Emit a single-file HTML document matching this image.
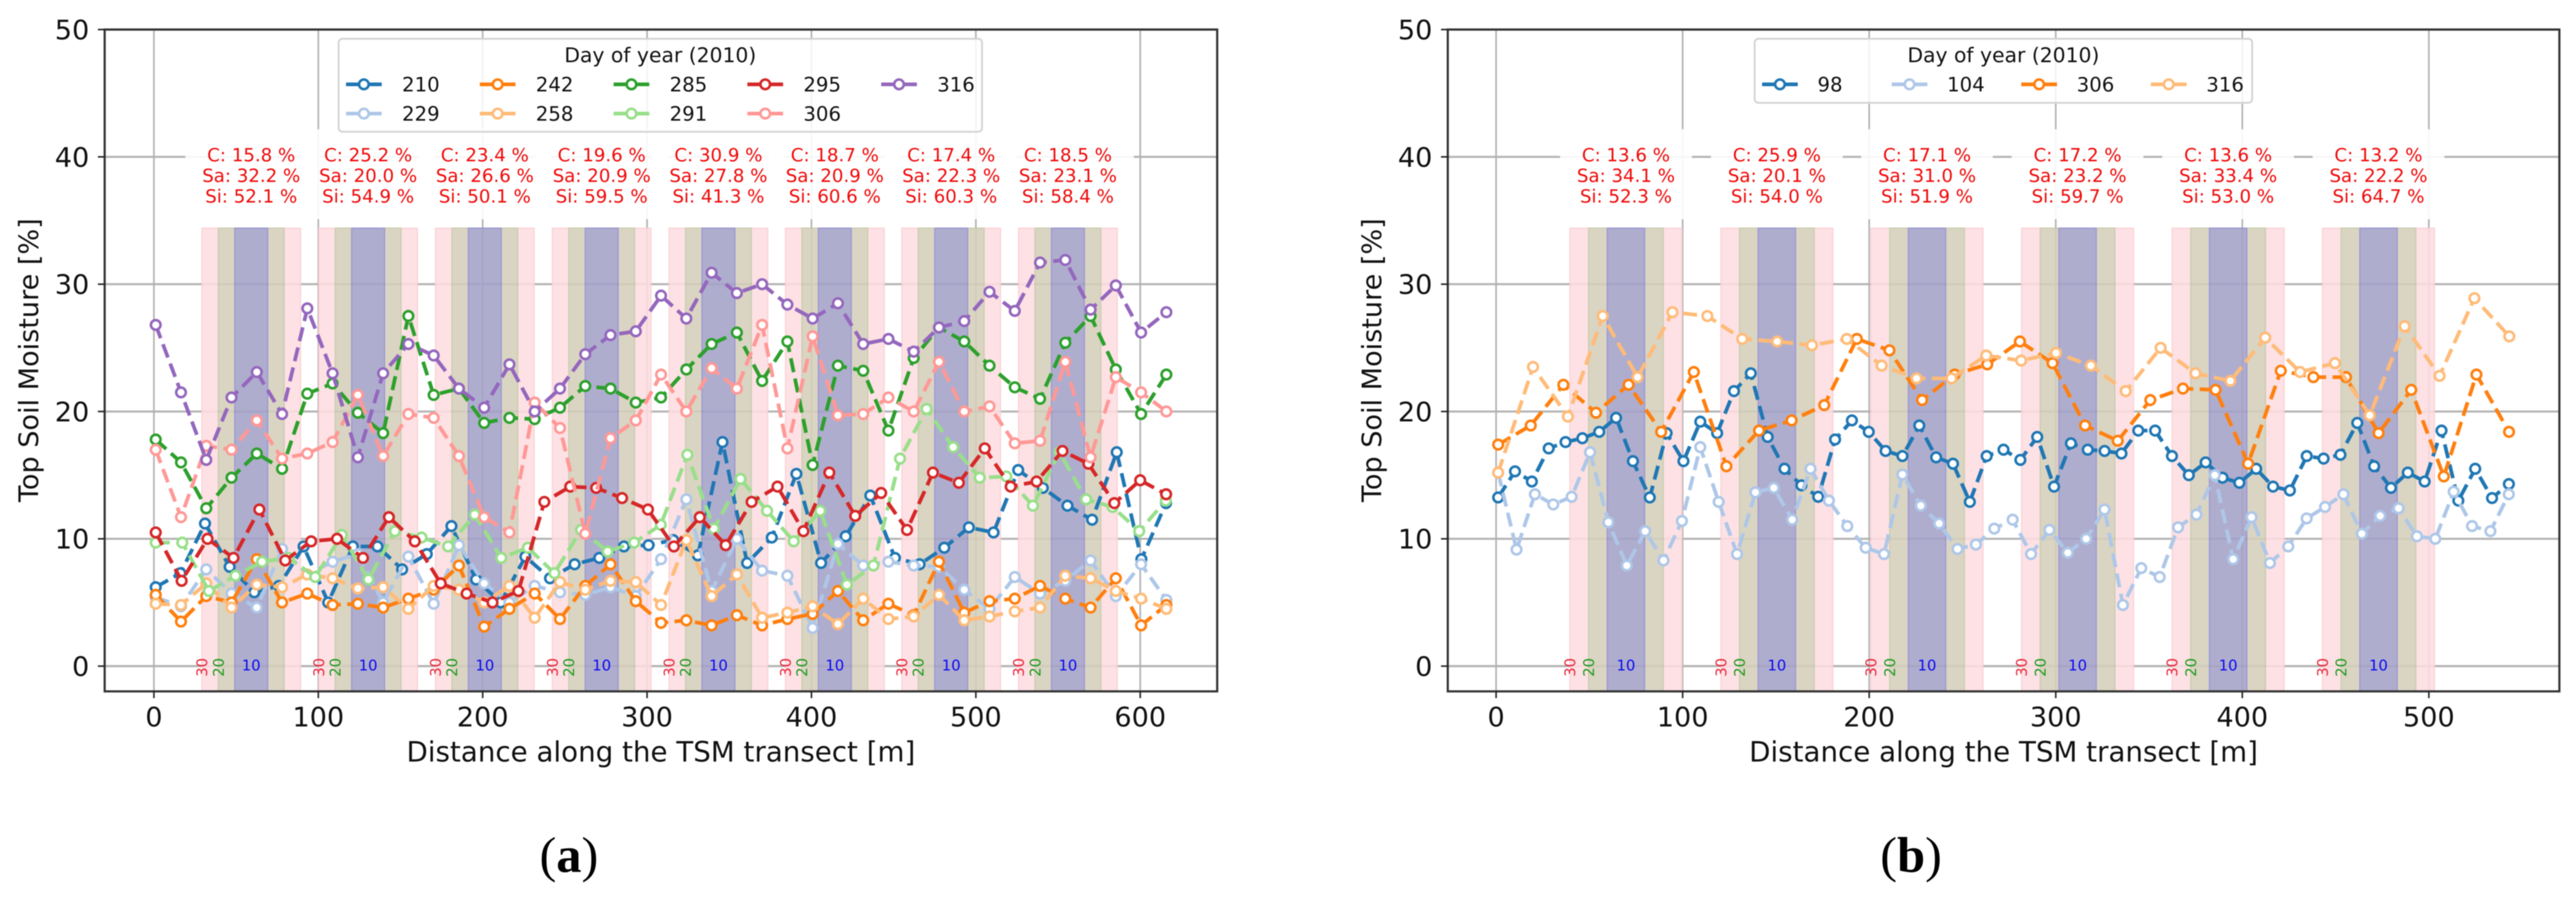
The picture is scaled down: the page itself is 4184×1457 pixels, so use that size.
<!DOCTYPE html>
<html lang="en">
<head>
<meta charset="utf-8">
<title>Top Soil Moisture along the TSM transect</title>
<style>
html,body{margin:0;padding:0;background:#fff;}
svg{display:block;filter:blur(0.9px);}
text{font-family:"DejaVu Sans","Liberation Sans",sans-serif;}
.cap{font-family:"Liberation Serif",serif;font-size:82px;fill:#000;}
</style>
</head>
<body>
<svg id="figure" xmlns="http://www.w3.org/2000/svg" width="4184" height="1457" viewBox="0 0 4184 1457">
<rect width="4184" height="1457" fill="#fff"/>
<text class="cap" x="924" y="1416" text-anchor="middle">(<tspan font-weight="bold">a</tspan>)</text>
<text class="cap" x="3104" y="1416" text-anchor="middle">(<tspan font-weight="bold">b</tspan>)</text>
</svg>
<script>
// ---------- shared axis tick labels ----------
const yTicks = [0, 10, 20, 30, 40, 50];
const xTicksA = [0, 100, 200, 300, 400, 500, 600];
const xTicksB = [0, 100, 200, 300, 400, 500];
const xAxisTitle = "Distance along the TSM transect [m]";
const yAxisTitle = "Top Soil Moisture [%]";
const legendTitle = "Day of year (2010)";
const bandWidths = [30, 20, 10];

// ---------- panel (a) data ----------
const daysA = [210, 229, 242, 258, 285, 291, 295, 306, 316];
const stepsA = [14.99, 15.37, 15.37, 15.37, 15.37, 16.17, 15.76, 15.37, 15.37];
const a210 = [6.2,7.3,11.2,7.8,5.8,6.3,9.4,5.0,9.4,9.4,7.6,8.8,11.0,6.8,5.0,8.6,6.9,8.0,8.5,9.4,9.5,9.9,8.7,17.6,8.1,10.1,15.1,8.1,10.2,13.4,8.5,8.0,9.3,10.9,10.5,15.4,14.0,12.6,11.5,16.8,8.4,12.8];
const a229 = [5.4,4.7,7.6,5.7,4.6,9.2,7.2,8.2,8.8,5.0,8.6,4.9,9.5,6.5,5.0,6.3,5.8,5.6,6.2,5.5,8.4,13.1,5.9,10.0,7.5,7.1,3.0,9.6,7.9,8.2,7.9,7.8,6.0,4.5,7.0,5.7,6.7,8.3,5.5,8.0,5.2];
const a242 = [5.6,3.5,5.5,5.0,8.4,5.0,5.7,4.8,4.9,4.6,5.3,6.0,7.9,3.1,4.5,5.7,3.7,6.3,8.0,5.1,3.4,3.6,3.2,4.0,3.2,3.7,4.1,5.9,3.6,4.9,4.0,8.2,4.2,5.1,5.3,6.3,5.3,4.6,6.9,3.2,4.8];
const a258 = [4.9,4.8,6.5,4.6,6.4,6.2,7.2,6.9,6.1,6.2,4.5,6.3,6.0,5.0,6.3,3.8,6.6,6.0,6.7,6.6,4.8,9.9,5.5,7.2,3.8,4.2,4.7,3.3,5.3,3.7,3.9,5.6,3.6,3.9,4.3,4.6,7.1,6.9,5.9,5.3,4.5];
const a285 = [17.8,16.0,12.4,14.8,16.7,15.5,21.4,22.2,19.9,18.3,27.5,21.3,21.8,19.1,19.5,19.4,20.3,22.0,21.8,20.7,21.1,23.3,25.3,26.2,22.4,25.5,15.8,23.6,23.2,18.5,24.2,26.6,25.5,23.6,21.9,21.0,25.4,27.5,23.3,19.8,22.9];
const a291 = [9.7,9.7,5.9,7.1,8.2,8.5,7.0,10.3,6.8,10.6,10.1,9.4,11.9,8.5,9.3,7.3,10.7,9.0,9.7,11.1,16.6,10.8,14.7,12.2,9.8,12.2,6.4,7.9,16.3,20.2,17.2,14.8,14.9,12.6,16.8,13.1,12.5,10.6,13.0];
const a295 = [10.5,6.7,10.0,8.5,12.3,8.3,9.8,10.0,8.5,11.7,9.8,6.5,5.7,5.0,5.9,12.9,14.1,14.0,13.2,12.3,9.4,11.7,9.5,12.9,14.1,10.6,15.2,11.8,13.6,10.7,15.2,14.4,17.1,14.1,14.5,16.9,15.9,12.8,14.6,13.5];
const a306 = [17.0,11.7,17.3,17.0,19.3,16.3,16.7,17.6,21.3,16.5,19.8,19.5,16.5,11.7,10.5,20.7,18.7,10.4,17.9,19.3,22.9,20.0,23.4,21.8,26.8,17.1,25.9,19.7,19.8,21.1,20.0,23.9,20.0,20.4,17.5,17.7,23.9,16.4,22.7,21.5,20.0];
const a316 = [26.8,21.5,16.2,21.1,23.1,19.8,28.1,23.0,16.4,23.0,25.3,24.4,21.8,20.3,23.7,20.0,21.8,24.5,26.0,26.3,29.1,27.3,30.9,29.3,30.0,28.4,27.3,28.5,25.3,25.7,24.7,26.6,27.1,29.4,27.9,31.7,31.9,28.0,29.9,26.2,27.8];
const seriesA = [a210, a229, a242, a258, a285, a291, a295, a306, a316];
const centersA = [59.2, 130.3, 201.3, 272.4, 343.4, 414.2, 485, 556];
const clayA = ["15.8","25.2","23.4","19.6","30.9","18.7","17.4","18.5"];
const sandA = ["32.2","20.0","26.6","20.9","27.8","20.9","22.3","23.1"];
const siltA = ["52.1","54.9","50.1","59.5","41.3","60.6","60.3","58.4"];

// ---------- panel (b) data ----------
const daysB = [98, 104, 306, 316];
const stepsB = [9.03, 9.85, 17.48, 18.69];
const b98 = [13.25,15.3,14.5,17.1,17.6,17.9,18.4,19.5,16.1,13.25,18.3,16.1,19.2,18.3,21.6,23.0,18.0,15.5,14.2,13.3,17.8,19.3,18.4,16.9,16.5,18.9,16.4,15.9,12.9,16.5,17.0,16.2,18.0,14.1,17.5,17.0,16.9,16.7,18.5,18.5,16.5,15.0,16.0,14.8,14.4,15.5,14.1,13.8,16.5,16.3,16.6,19.1,15.7,14.0,15.2,14.5,18.5,13.0,15.5,13.2,14.3];
const b104 = [15.2,9.15,13.5,12.7,13.3,16.8,11.3,7.9,10.6,8.3,11.4,17.2,12.9,8.8,13.65,14.0,11.5,15.5,13.0,11.0,9.3,8.8,15.05,12.6,11.2,9.2,9.55,10.8,11.5,8.8,10.7,8.9,10.0,12.3,4.8,7.7,7.0,10.9,11.9,15.0,8.4,11.7,8.1,9.4,11.6,12.5,13.5,10.4,11.8,12.4,10.2,10.0,13.7,11.0,10.6,13.5];
const b306 = [17.4,18.9,22.1,19.9,22.1,18.4,23.1,15.7,18.5,19.3,20.5,25.7,24.8,20.9,22.9,23.7,25.5,23.8,18.9,17.7,20.9,21.8,21.7,15.9,23.2,22.7,22.7,18.3,21.7,14.9,22.9,18.4];
const b316 = [15.2,23.5,19.6,27.5,22.7,27.8,27.5,25.7,25.5,25.2,25.7,23.6,22.6,22.6,24.4,24.0,24.6,23.6,21.6,25.0,23.0,22.4,25.8,23.1,23.8,19.7,26.7,22.8,28.9,25.9];
const seriesB = [b98, b104, b306, b316];
const centersB = [69.6, 150.5, 231, 311.7, 392.4, 473];
const clayB = ["13.6","25.9","17.1","17.2","13.6","13.2"];
const sandB = ["34.1","20.1","31.0","23.2","33.4","22.2"];
const siltB = ["52.3","54.0","51.9","59.7","53.0","64.7"];

// ---------- colour tables ----------
const colorsA = ["#1f77b4","#aec7e8","#ff7f0e","#ffbb78","#2ca02c","#98df8a","#d62728","#ff9896","#9467bd"];
const colorsB = ["#1f77b4","#aec7e8","#ff7f0e","#ffbb78"];

const NS = "http://www.w3.org/2000/svg";
const fig = document.getElementById("figure");
function mk(tag, attrs, parent) {
  const e = document.createElementNS(NS, tag);
  for (const k in attrs) e.setAttribute(k, attrs[k]);
  parent.appendChild(e);
  return e;
}

function drawPanel(cfg) {
  const left = cfg.left, right = cfg.right, top = 48, bottom = 1123;
  const sx = v => cfg.x0 + v * cfg.pxPerX;
  const sy = v => 1082 - v * 20.68;
  const root = mk("g", {}, fig);
  
  

  // grid
  const grid = mk("g", {}, root);
  
  
  yTicks.forEach(t => {
    const l = mk("line", {x1:left,x2:right,y1:sy(t),y2:sy(t),stroke:"#b4b4b4","stroke-width":3.4}, grid);
    
    
  });
  cfg.xTicks.forEach(t => {
    const l = mk("line", {x1:sx(t),x2:sx(t),y1:top,y2:bottom,stroke:"#b0b0b0","stroke-width":2.6}, grid);
    
    
  });

  // depth bands
  const bands = mk("g", {opacity:0.88}, root);
  
  
  const bandFill = ["#fddde1","#d5cfba","#a5a2c8"];
  const bandEdge = ["#fbcdd3","#c2c8a6","#8f8cd0"];
  cfg.centers.forEach(c => {
    bandWidths.forEach((w, i) => {
      const r = mk("rect", {x:sx(c-w),y:sy(34.4),width:sx(c+w)-sx(c-w),height:bottom-sy(34.4),fill:bandFill[i],stroke:bandEdge[i],"stroke-width":2}, bands);
      
      
    });
  });

  // soil composition labels
  cfg.centers.forEach((c, i) => {
    const g = mk("g", {}, root);
    
    
    const b = mk("rect", {x:sx(c)-107,y:210,width:214,height:146,fill:"#fff","fill-opacity":0.9}, g);
    
    
    const lines = ["C: "+cfg.clay[i]+" %", "Sa: "+cfg.sand[i]+" %", "Si: "+cfg.silt[i]+" %"];
    lines.forEach((s, j) => {
      const t = mk("text", {x:sx(c),y:262+j*33.5,"text-anchor":"middle","font-size":29.5,fill:"#f00a0a"}, g);
      t.textContent = s;
      
      
    });
  });

  // band width labels
  cfg.centers.forEach(c => {
    const t30 = mk("text", {transform:"translate("+sx(c-30)+",1084) rotate(-90)","text-anchor":"middle",dy:"0.36em","font-size":24,fill:"#e8283c"}, root);
    t30.textContent = "30";
    
    
    const t20 = mk("text", {transform:"translate("+sx(c-20)+",1084) rotate(-90)","text-anchor":"middle",dy:"0.36em","font-size":24,fill:"#1f9a1f"}, root);
    t20.textContent = "20";
    
    
    const t10 = mk("text", {x:sx(c),y:1089,"text-anchor":"middle","font-size":24,fill:"#0a0af0"}, root);
    t10.textContent = "10";
    
    
  });

  // series
  cfg.series.forEach((vals, i) => {
    const g = mk("g", {}, root);
    
    
    const px = vals.map((v, k) => sx(1.1 + k * cfg.steps[i]));
    const py = vals.map(v => sy(v));
    const d = px.map((x, k) => (k ? "L" : "M") + x.toFixed(1) + " " + py[k].toFixed(1)).join("");
    const p = mk("path", {d:d,fill:"none",stroke:cfg.colors[i],"stroke-width":6,"stroke-dasharray":"23 10.5"}, g);
    
    
    px.forEach((x, k) => {
      const m = mk("circle", {cx:x,cy:py[k],r:7.8,fill:"#fff",stroke:cfg.colors[i],"stroke-width":4.2}, g);
      
      
    });
  });

  // spines
  const spine = mk("rect", {x:left,y:top,width:right-left,height:bottom-top,fill:"none",stroke:"#333","stroke-width":3.5}, root);
  
  

  // y ticks
  yTicks.forEach(t => {
    const l = mk("line", {x1:left-11,x2:left,y1:sy(t),y2:sy(t),stroke:"#222","stroke-width":2.5}, root);
    
    
    const s = mk("text", {x:left-25,y:sy(t)+16,"text-anchor":"end","font-size":44,fill:"#111"}, root);
    s.textContent = t;
    
    
  });
  // x ticks
  cfg.xTicks.forEach(t => {
    const l = mk("line", {x1:sx(t),x2:sx(t),y1:bottom,y2:bottom+11,stroke:"#222","stroke-width":2.5}, root);
    
    
    const s = mk("text", {x:sx(t),y:1180,"text-anchor":"middle","font-size":44,fill:"#111"}, root);
    s.textContent = t;
    
    
  });
  const xt = mk("text", {x:(left+right)/2,y:1237,"text-anchor":"middle","font-size":45,fill:"#111"}, root);
  xt.textContent = xAxisTitle;
  
  
  const yt = mk("text", {transform:"translate("+(left-108)+",585) rotate(-90)","text-anchor":"middle","font-size":44,fill:"#111"}, root);
  yt.textContent = yAxisTitle;
  
  

  // legend
  const lg = mk("g", {}, root);
  
  
  const frame = mk("rect", {x:cfg.legend.x,y:63,width:cfg.legend.w,height:cfg.legend.h,rx:6,fill:"#fff","fill-opacity":0.85,stroke:"#d4d4d4","stroke-width":3}, lg);
  
  
  const title = mk("text", {x:cfg.legend.x+cfg.legend.w/2,y:101,"text-anchor":"middle","font-size":33,fill:"#111"}, lg);
  title.textContent = legendTitle;
  
  
  cfg.days.forEach((day, i) => {
    const col = Math.floor(i / cfg.legend.rows), row = i % cfg.legend.rows;
    const hx = cfg.legend.hx + col * cfg.legend.dx, hy = 137 + row * 47.5;
    const e = mk("g", {}, lg);
    
    
    const ln = mk("line", {x1:hx,x2:hx+58,y1:hy,y2:hy,stroke:cfg.colors[i],"stroke-width":6}, e);
    
    
    const c = mk("circle", {cx:hx+29,cy:hy,r:7.8,fill:"#fff",stroke:cfg.colors[i],"stroke-width":4.2}, e);
    
    
    const s = mk("text", {x:hx+cfg.legend.lab,y:hy+11.5,"font-size":32,fill:"#111"}, e);
    s.textContent = day;
    
    
  });
}

drawPanel({name:"panel-a-chart",left:170,right:1977,x0:250,pxPerX:2.67,xTicks:xTicksA,series:seriesA,days:daysA,steps:stepsA,colors:colorsA,centers:centersA,clay:clayA,sand:sandA,silt:siltA,
  legend:{x:550,w:1045,h:151,rows:2,hx:562,dx:217.3,lab:91}});
drawPanel({name:"panel-b-chart",left:2351.5,right:4157,x0:2430,pxPerX:3.03,xTicks:xTicksB,series:seriesB,days:daysB,steps:stepsB,colors:colorsB,centers:centersB,clay:clayB,sand:sandB,silt:siltB,
  legend:{x:2850,w:808,h:104,rows:1,hx:2862,dx:210.5,lab:90}});
</script>
</body>
</html>
